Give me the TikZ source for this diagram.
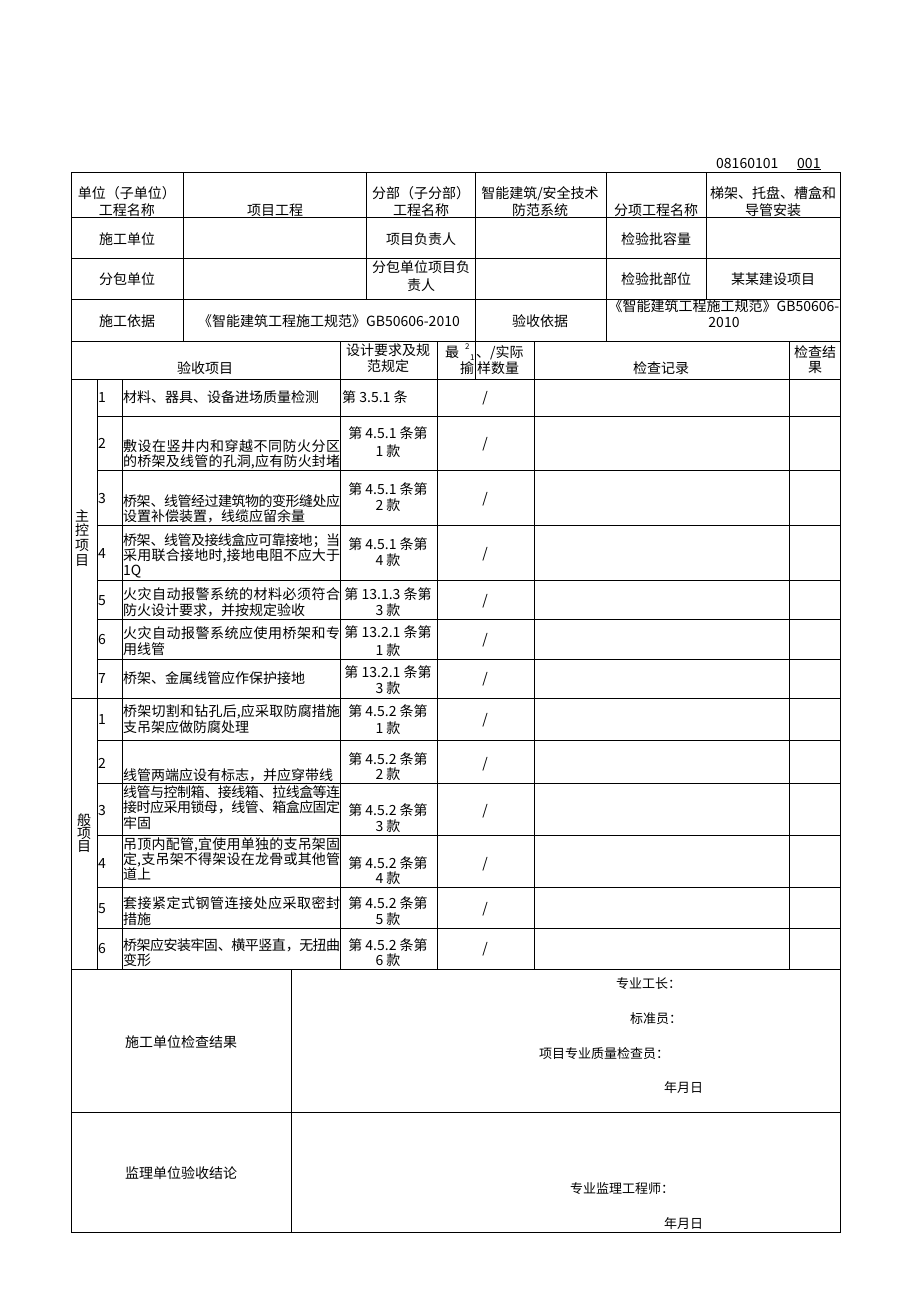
\documentclass[tikz,border=0pt]{standalone}
\usepackage{fontspec}
\setmainfont{Noto Sans CJK SC}
\newcommand\txc[3][230pt]{\parbox[t]{#1}{\centering\fontsize{14}{#2}\selectfont #3}}
\newcommand\txj[2]{\parbox[t]{217pt}{\fontsize{14}{#1}\selectfont\tolerance=10000\hbadness=10000\XeTeXlinebreaklocale "zh"\XeTeXlinebreakskip=0pt plus 1.5pt minus 0.6pt\relax #2}}
\tikzset{
  grid/.style={line width=0.9pt, draw=black},
  lbl/.style={inner sep=0pt, anchor=base, font=\fontsize{14}{16}\selectfont},
  lblw/.style={inner sep=0pt, anchor=base west, font=\fontsize{14}{16}\selectfont},
  sig/.style={inner sep=0pt, anchor=base west, font=\fontsize{13}{15}\selectfont},
}
\begin{document}
\begin{tikzpicture}[x=1pt,y=-1pt]
\useasboundingbox (0,0) rectangle (920,1301);
% ---------- grid ----------
\draw[grid] (71,172) rectangle (840,1232);
\foreach \y in {217,258,299,341,379,698,969,1112} \draw[grid] (71,\y) -- (840,\y);
\foreach \y in {416,470,525,580,619,659,740,783,835,887,928} \draw[grid] (97,\y) -- (840,\y);
\draw[grid] (183,172) -- (183,341);
\draw[grid] (366,172) -- (366,299);
\draw[grid] (475,172) -- (475,379);
\draw[grid] (606,172) -- (606,341);
\draw[grid] (706,172) -- (706,299);
\foreach \x in {340,437,534,789} \draw[grid] (\x,341) -- (\x,969);
\foreach \x in {97,122} \draw[grid] (\x,379) -- (\x,969);
\draw[grid] (291,969) -- (291,1232);
% ---------- top code ----------
\node[lblw] (code) at (716,168) {08160101};
\node[lblw] (num) at (797,168) {\underline{001}};
% ---------- row 1 ----------
\node[lbl] (r1a) at (127,198) {\txc{17}{单位（子单位）\\工程名称}};
\node[lbl] (r1b) at (275,215) {项目工程};
\node[lbl] (r1c) at (421,198) {\txc{17}{分部（子分部）\\工程名称}};
\node[lbl] (r1d) at (540,198) {\txc{17}{智能建筑/安全技术\\防范系统}};
\node[lbl] (r1e) at (656,215) {分项工程名称};
\node[lbl] (r1f) at (773,198) {\txc{17}{梯架、托盘、槽盒和\\导管安装}};
% ---------- row 2 ----------
\node[lbl] (r2a) at (127,244) {施工单位};
\node[lbl] (r2c) at (421,244) {项目负责人};
\node[lbl] (r2e) at (656,244) {检验批容量};
% ---------- row 3 ----------
\node[lbl] (r3a) at (127,284) {分包单位};
\node[lbl] (r3c) at (421,272) {\txc{18}{分包单位项目负\\责人}};
\node[lbl] (r3e) at (656,284) {检验批部位};
\node[lbl] (r3f) at (773,284) {某某建设项目};
% ---------- row 4 ----------
\node[lbl] (r4a) at (127,326) {施工依据};
\node[lbl] (r4b) at (329,326) {《智能建筑工程施工规范》GB50606-2010};
\node[lbl] (r4c) at (540,326) {验收依据};
\node[lbl] (r4d) at (724,311) {\txc[280pt]{16.5}{\mbox{《智能建筑工程施工规范》GB50606-}\\2010}};
% ---------- header row ----------
\node[lbl] (h1) at (205,373) {验收项目};
\node[lbl] (h2) at (388,355) {\txc{16}{设计要求及规\\范规定}};
\node[lblw] (h3a) at (445,357) {最};
\node[inner sep=0pt, anchor=base west, font=\fontsize{8}{9}\selectfont] (h3b) at (465,349) {2};
\node[inner sep=0pt, anchor=base west, font=\fontsize{8}{9}\selectfont] (h3c) at (470,360) {1};
\node[lblw] (h3d) at (476,357) {、/实际};
\node[lblw] (h3e) at (460,373) {揄};
\node[lblw] (h3f) at (477,373) {样数量};
\node[lbl] (h4) at (661,373) {检查记录};
\node[lbl] (h5) at (815,357) {\txc{15}{检查结\\果}};
% ---------- main items ----------
\node[lbl] (mg) at (82,521) {\txc[20pt]{14.7}{主\\控\\项\\目}};
\node[lblw] (m1n) at (98,402) {1};
\node[lblw] (m1t) at (123,402) {\txj{15}{材料、器具、设备进场质量检测}};
\node[lblw] (m1s) at (342,402) {第 3.5.1 条};
\node[lbl]  (m1r) at (485,402) {/};
\node[lblw] (m2n) at (98,448) {2};
\node[lblw] (m2t) at (123,451) {\txj{15}{敷设在竖井内和穿越不同防火分区\linebreak 的桥架及线管的孔洞,应有防火封堵\parfillskip=0pt}};
\node[lbl]  (m2s) at (388,438) {\txc{18.5}{第 4.5.1 条第\\1 款}};
\node[lbl]  (m2r) at (485,448) {/};
\node[lblw] (m3n) at (98,503) {3};
\node[lblw] (m3t) at (123,506) {\txj{15.3}{桥架、线管经过建筑物的变形缝处应\linebreak 设置补偿装置，线缆应留余量}};
\node[lbl]  (m3s) at (388,494) {\txc{16.7}{第 4.5.1 条第\\2 款}};
\node[lbl]  (m3r) at (485,503) {/};
\node[lblw] (m4n) at (98,558) {4};
\node[lblw] (m4t) at (123,545) {\txj{15}{桥架、线管及接线盒应可靠接地；当\linebreak 采用联合接地时,接地电阻不应大于\linebreak 1Q}};
\node[lbl]  (m4s) at (388,549) {\txc{16}{第 4.5.1 条第\\4 款}};
\node[lbl]  (m4r) at (485,558) {/};
\node[lblw] (m5n) at (98,605) {5};
\node[lblw] (m5t) at (123,599) {\txj{16}{火灾自动报警系统的材料必须符合\linebreak 防火设计要求，并按规定验收}};
\node[lbl]  (m5s) at (388,599) {\txc{16}{第 13.1.3 条第\\3 款}};
\node[lbl]  (m5r) at (485,605) {/};
\node[lblw] (m6n) at (98,644) {6};
\node[lblw] (m6t) at (123,638) {\txj{16}{火灾自动报警系统应使用桥架和专\linebreak 用线管}};
\node[lbl]  (m6s) at (388,637) {\txc{18}{第 13.2.1 条第\\1 款}};
\node[lbl]  (m6r) at (485,644) {/};
\node[lblw] (m7n) at (98,683) {7};
\node[lblw] (m7t) at (123,683) {\txj{15}{桥架、金属线管应作保护接地}};
\node[lbl]  (m7s) at (388,677) {\txc{16}{第 13.2.1 条第\\3 款}};
\node[lbl]  (m7r) at (485,683) {/};
% ---------- general items ----------
\node[lbl] (gg) at (84,825) {\txc[20pt]{13.3}{般\\项\\目}};
\node[lblw] (g1n) at (98,724) {1};
\node[lblw] (g1t) at (123,716) {\txj{16}{桥架切割和钻孔后,应采取防腐措施\linebreak 支吊架应做防腐处理}};
\node[lbl]  (g1s) at (388,716) {\txc{17.5}{第 4.5.2 条第\\1 款}};
\node[lbl]  (g1r) at (485,724) {/};
\node[lblw] (g2n) at (98,768) {2};
\node[lblw] (g2t) at (123,780) {\txj{15}{线管两端应设有标志，并应穿带线}};
\node[lbl]  (g2s) at (388,764) {\txc{15.3}{第 4.5.2 条第\\2 款}};
\node[lbl]  (g2r) at (485,768) {/};
\node[lblw] (g3n) at (98,815) {3};
\node[lblw] (g3t) at (123,797) {\txj{15.8}{线管与控制箱、接线箱、拉线盒等连\linebreak 接时应采用锁母，线管、箱盒应固定\linebreak 牢固}};
\node[lbl]  (g3s) at (388,815) {\txc{16.7}{第 4.5.2 条第\\3 款}};
\node[lbl]  (g3r) at (485,815) {/};
\node[lblw] (g4n) at (98,868) {4};
\node[lblw] (g4t) at (123,849) {\txj{15.2}{吊顶内配管,宜使用单独的支吊架固\linebreak 定,支吊架不得架设在龙骨或其他管\linebreak 道上}};
\node[lbl]  (g4s) at (388,868) {\txc{15.6}{第 4.5.2 条第\\4 款}};
\node[lbl]  (g4r) at (485,868) {/};
\node[lblw] (g5n) at (98,913) {5};
\node[lblw] (g5t) at (123,908) {\txj{16.7}{套接紧定式钢管连接处应采取密封\linebreak 措施}};
\node[lbl]  (g5s) at (388,908) {\txc{16}{第 4.5.2 条第\\5 款}};
\node[lbl]  (g5r) at (485,913) {/};
\node[lblw] (g6n) at (98,953) {6};
\node[lblw] (g6t) at (123,950) {\txj{15}{桥架应安装牢固、横平竖直，无扭曲\linebreak 变形}};
\node[lbl]  (g6s) at (388,950) {\txc{15}{第 4.5.2 条第\\6 款}};
\node[lbl]  (g6r) at (485,953) {/};
% ---------- bottom ----------
\node[lbl] (b1) at (181,1047) {施工单位检查结果};
\node[sig] (b1a) at (616,988) {专业工长：};
\node[sig] (b1b) at (630,1023) {标准员：};
\node[sig] (b1c) at (539,1058) {项目专业质量检查员：};
\node[sig] (b1d) at (664,1092) {年月日};
\node[lbl] (b2) at (181,1178) {监理单位验收结论};
\node[sig] (b2a) at (570,1193) {专业监理工程师：};
\node[sig] (b2b) at (664,1228) {年月日};
\end{tikzpicture}
\end{document}
